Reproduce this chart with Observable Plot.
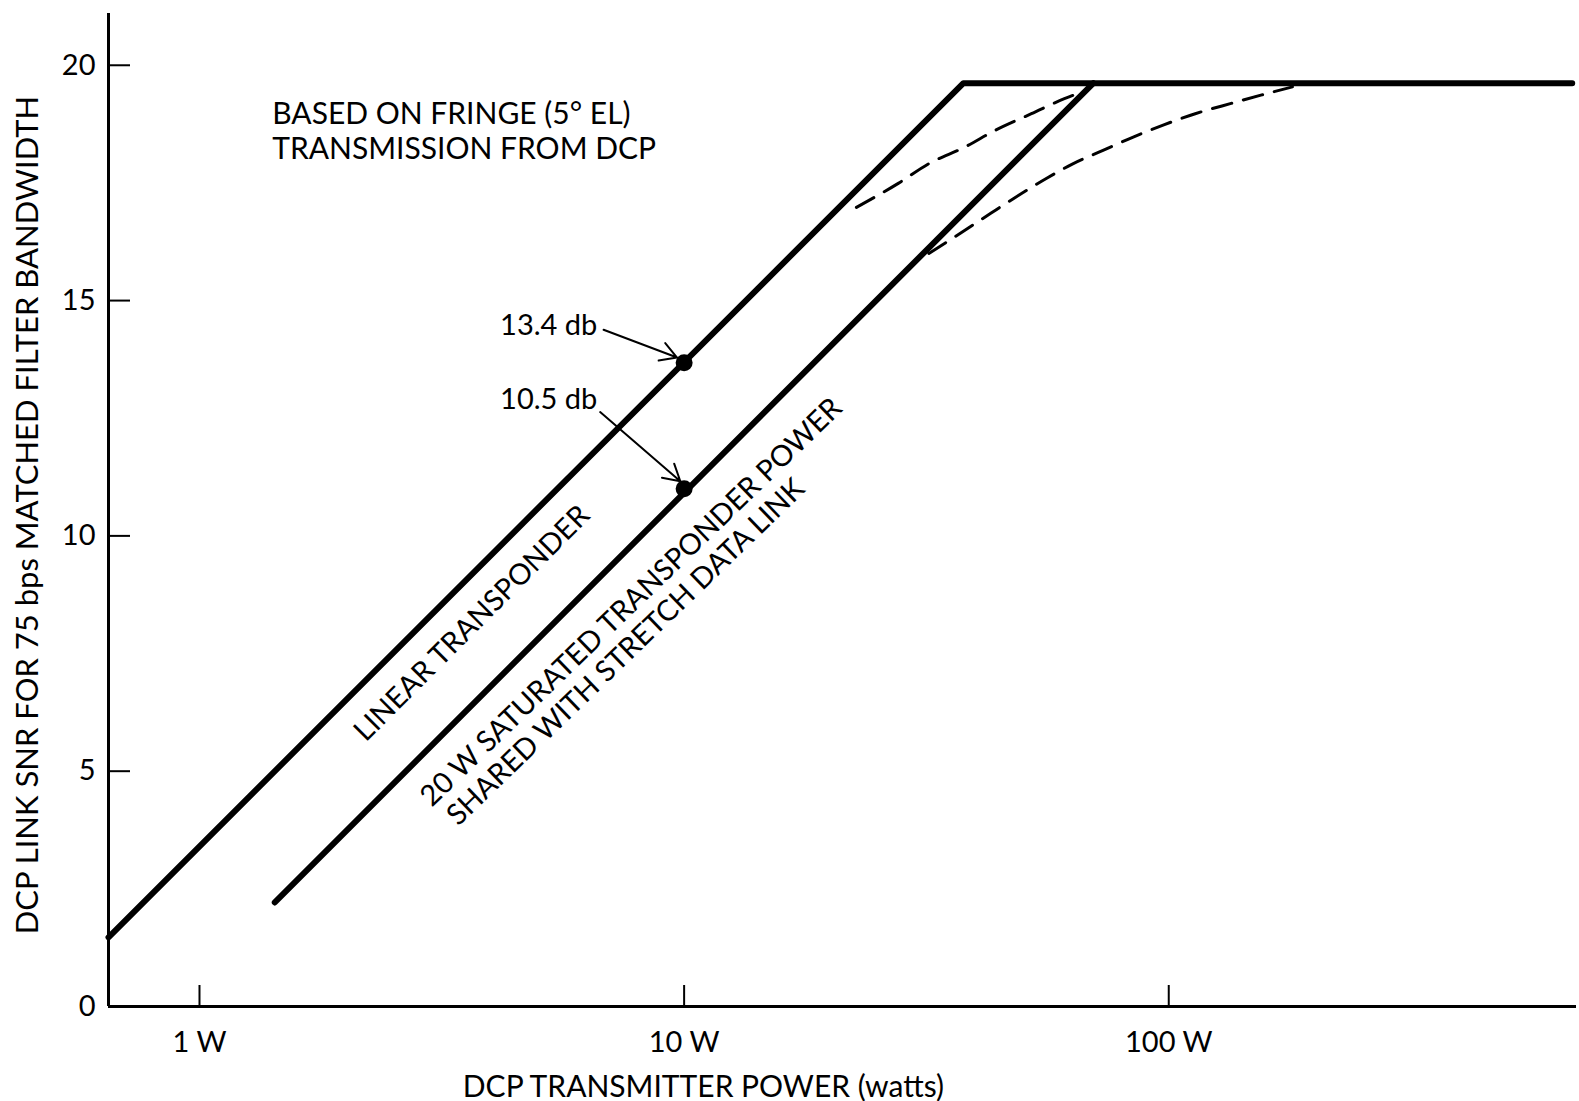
<!DOCTYPE html>
<html><head><meta charset="utf-8">
<script src="https://cdn.jsdelivr.net/npm/d3@7"></script>
<script src="https://cdn.jsdelivr.net/npm/@observablehq/plot@0.6"></script>
<style>body{margin:0;background:#fff} svg{display:block}</style>
</head><body><div id="chart"></div>
<script>
// Axis ticks
const xTicks = [1, 10, 100];
const xTickLabels = ["1 W", "10 W", "100 W"];
const yTicks = [0, 5, 10, 15, 20];

// Linear transponder curve (watts, dB)
const linearPower = [0.649, 37.7, 680];
const linearSnr = [1.47, 19.62, 19.62];

// 20 W saturated transponder curve
const saturatedPower = [1.43, 69.9];
const saturatedSnr = [2.21, 19.62];

// Dashed transition curves
const upperDashPower = [22.67, 27.66, 31.99, 37.93, 43.88, 52.07, 60.9, 67.96];
const upperDashSnr = [16.98, 17.49, 17.91, 18.26, 18.62, 18.97, 19.29, 19.47];
const lowerDashPower = [31.99, 37.02, 42.85, 49.58, 56.0, 63.24, 73.17, 84.7, 97.97, 113.4, 134.5, 155.6, 180];
const lowerDashSnr = [16.0, 16.42, 16.85, 17.27, 17.6, 17.9, 18.19, 18.48, 18.74, 18.97, 19.19, 19.37, 19.54];

// Marked points at 10 W
const pointPower = [10, 10];
const pointSnr = [13.68, 11.0];
const pointLabels = ["13.4 db", "10.5 db"];

const zip = (xs, ys) => xs.map((x, i) => ({x, y: ys[i]}));

const FONT = "Lato, 'DejaVu Sans', sans-serif";

const chart = Plot.plot({
  width: 1579,
  height: 1101,
  marginLeft: 108,
  marginRight: 3,
  marginTop: 13,
  marginBottom: 95,
  style: {fontFamily: FONT, fontSize: "29px", color: "black", background: "white"},
  x: {type: "log", domain: [0.649, 694]},
  y: {domain: [0, 21.1]},
  marks: [
    Plot.axisY({ticks: yTicks, tickSize: -22, tickPadding: 35, strokeWidth: 2, label: null, fontSize: 29}),
    Plot.axisX({ticks: xTicks, tickFormat: d => xTickLabels[xTicks.indexOf(d)], tickSize: -21, tickPadding: 46, strokeWidth: 2, label: null, fontSize: 29}),
    Plot.ruleX([0.649], {y1: 0, y2: 21.1, strokeWidth: 3}),
    Plot.ruleY([0], {strokeWidth: 3}),
    Plot.line(zip(linearPower, linearSnr), {x: "x", y: "y", strokeWidth: 6, strokeLinejoin: "round", strokeLinecap: "round"}),
    Plot.line(zip(saturatedPower, saturatedSnr), {x: "x", y: "y", strokeWidth: 6, strokeLinejoin: "round", strokeLinecap: "round"}),
    Plot.line(zip(upperDashPower, upperDashSnr), {x: "x", y: "y", curve: "monotone-x", strokeWidth: 3, strokeDasharray: "20,12"}),
    Plot.line(zip(lowerDashPower, lowerDashSnr), {x: "x", y: "y", curve: "monotone-x", strokeWidth: 3, strokeDasharray: "20,12"}),
    Plot.dot(zip(pointPower, pointSnr), {x: "x", y: "y", r: 8.5, fill: "black"}),
    Plot.arrow([{x1: 6.82, y1: 14.38, x2: 9.67, y2: 13.79}, {x1: 6.71, y1: 12.63, x2: 9.82, y2: 11.16}],
      {x1: "x1", y1: "y1", x2: "x2", y2: "y2", strokeWidth: 2, headLength: 14}),
    Plot.text([{x: 6.62, y: 14.47, t: pointLabels[0]}, {x: 6.62, y: 12.89, t: pointLabels[1]}],
      {x: "x", y: "y", text: "t", textAnchor: "end", lineAnchor: "middle", fontSize: 29}),
    Plot.text(["BASED ON FRINGE (5° EL)\nTRANSMISSION FROM DCP"],
      {x: 1.413, y: 18.62, textAnchor: "start", lineAnchor: "middle", lineHeight: 1.15, fontSize: 30}),
    Plot.text(["LINEAR TRANSPONDER"], {x: 3.65, y: 8.14, rotate: -45, fontSize: 29}),
    Plot.text(["20 W SATURATED TRANSPONDER POWER"], {x: 7.78, y: 8.59, rotate: -44, fontSize: 29}),
    Plot.text(["SHARED WITH STRETCH DATA LINK"], {x: 7.58, y: 7.53, rotate: -44, fontSize: 29}),
    Plot.text(["DCP TRANSMITTER POWER (watts)"], {x: 10.96, frameAnchor: "bottom", dy: 90, fontSize: 30}),
    Plot.text(["DCP LINK SNR FOR 75 bps MATCHED FILTER BANDWIDTH"], {frameAnchor: "left", textAnchor: "middle", lineAnchor: "middle", dx: -80, dy: 5, rotate: -90, fontSize: 31})
  ]
});
document.getElementById("chart").append(chart);
</script>
</body></html>
